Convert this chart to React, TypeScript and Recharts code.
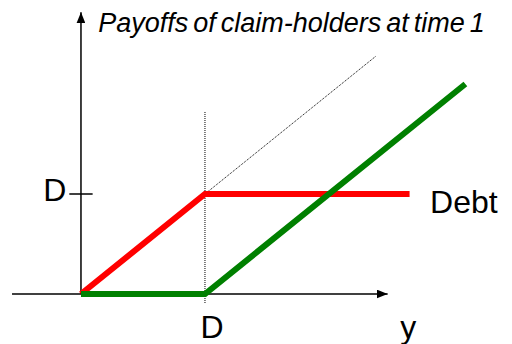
import React from 'react';
import { LineChart, Line, XAxis, YAxis, ReferenceLine, ReferenceDot } from 'recharts';

// x and y in units of D (face value of debt)
const debtX = [0, 1, 2.65];
const debtY = [0, 1, 1];
const equityX = [0, 1, 3.1];
const equityY = [0, 0, 2.1];
const firmX = [1, 2.38];
const firmY = [1, 2.38];
const strikeX = [1, 1];
const strikeY = [-0.09, 1.82];

const xAxisStart = -0.556;
const xAxisEnd = 2.473;
const yAxisEnd = 2.817;
const tickHalf = 0.094;

const titleText = 'Payoffs of claim-holders at time 1';
const debtLabel = 'Debt';
const dLabel = 'D';
const xLabel = 'y';

const toRows = (xs: number[], ys: number[]) => xs.map((x, i) => ({ x, y: ys[i] }));

const FONT = '"Liberation Sans", Arial, sans-serif';

const note = (text: string, dx: number, dy: number, anchor: string, size: number, italic = false) =>
  (props: any) => {
    const vb = props.viewBox || {};
    const cx = vb.x + (vb.width || 0) / 2;
    const cy = vb.y + (vb.height || 0) / 2;
    return (
      <text
        x={cx + dx}
        y={cy + dy}
        textAnchor={anchor}
        fontFamily={FONT}
        fontSize={size}
        fontStyle={italic ? 'italic' : 'normal'}
        wordSpacing={italic ? -2.5 : 0}
        fill="#000"
      >
        {text}
      </text>
    );
  };

export default function App() {
  return (
    <div style={{ position: 'absolute', left: 0, top: 0, width: 512, height: 344, background: '#fff' }}>
      <LineChart width={512} height={344} margin={{ top: 0, right: 0, bottom: 0, left: 0 }}>
        <defs>
          <marker id="arrowHead" markerUnits="userSpaceOnUse" markerWidth="12" markerHeight="9" refX="11" refY="4.5" orient="auto">
            <path d="M0,0 L11,4.5 L0,9 z" fill="#000" />
          </marker>
        </defs>
        <XAxis type="number" dataKey="x" domain={[-0.653, 3.476]} hide allowDataOverflow />
        <YAxis type="number" dataKey="y" domain={[-0.5, 2.94]} hide allowDataOverflow />

        <ReferenceLine
          segment={[{ x: xAxisStart, y: 0 }, { x: xAxisEnd, y: 0 }]}
          stroke="#000"
          strokeWidth={1.5}
          markerEnd="url(#arrowHead)"
        />
        <ReferenceLine
          segment={[{ x: 0, y: 0 }, { x: 0, y: yAxisEnd }]}
          stroke="#000"
          strokeWidth={1.5}
          markerEnd="url(#arrowHead)"
        />
        <ReferenceLine
          segment={[{ x: -tickHalf, y: 1 }, { x: tickHalf, y: 1 }]}
          stroke="#000"
          strokeWidth={1.5}
        />

        <Line data={toRows(strikeX, strikeY)} dataKey="y" stroke="#000" strokeWidth={1} strokeDasharray="1 1" dot={false} activeDot={false} isAnimationActive={false} />
        <Line data={toRows(firmX, firmY)} dataKey="y" stroke="#000" strokeWidth={1} strokeDasharray="1 1" dot={false} activeDot={false} isAnimationActive={false} />
        <Line data={toRows(debtX, debtY)} dataKey="y" stroke="#ff0000" strokeWidth={6} strokeLinejoin="miter" dot={false} activeDot={false} isAnimationActive={false} />
        <Line data={toRows(equityX, equityY)} dataKey="y" stroke="#008000" strokeWidth={6} strokeLinejoin="miter" dot={false} activeDot={false} isAnimationActive={false} />

        <ReferenceDot x={0.01} y={yAxisEnd} r={0} fill="none" stroke="none" label={{ content: note(titleText, 16, 19.4, 'start', 27, true) }} />
        <ReferenceDot x={-tickHalf} y={1} r={0} fill="none" stroke="none" label={{ content: note(dLabel, -3, 6.7, 'end', 32) }} />
        <ReferenceDot x={debtX[2]} y={1} r={0} fill="none" stroke="none" label={{ content: note(debtLabel, 20.5, 18.7, 'start', 32) }} />
        <ReferenceDot x={1} y={0} r={0} fill="none" stroke="none" label={{ content: note(dLabel, -4.5, 43.7, 'start', 32) }} />
        <ReferenceDot x={xAxisEnd} y={0} r={0} fill="none" stroke="none" label={{ content: note(xLabel, 12.5, 43.7, 'start', 32) }} />
      </LineChart>
    </div>
  );
}
